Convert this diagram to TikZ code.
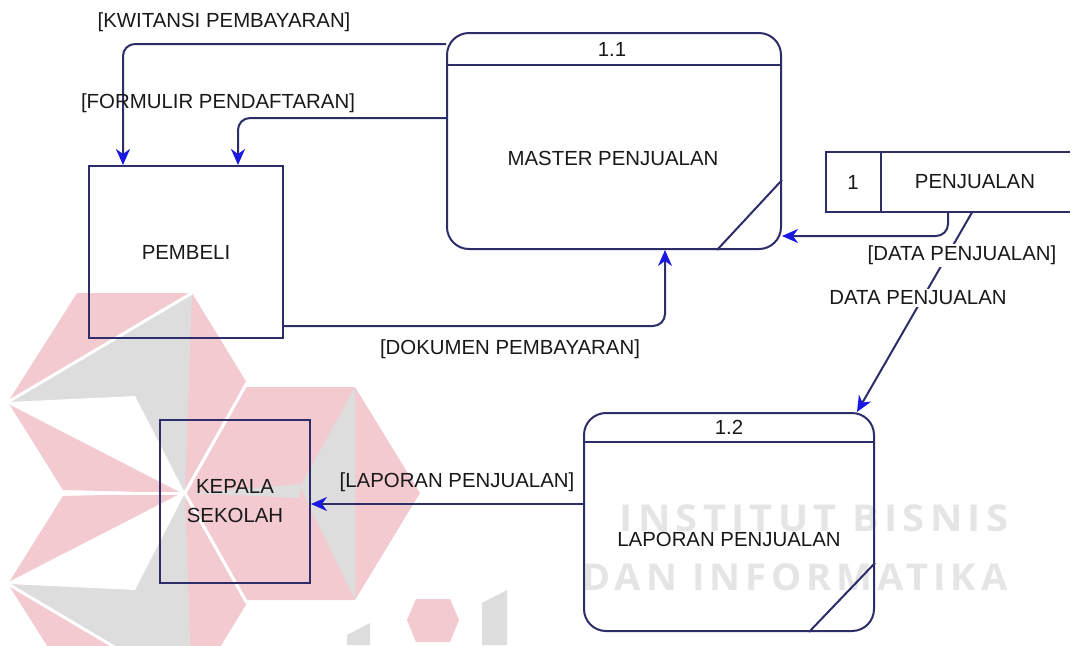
\documentclass[tikz,border=0pt]{standalone}
\usepackage{fontspec}
\setmainfont{Liberation Sans}
\newfontfamily\wmfont[LetterSpace=13]{Open Sans}
\usetikzlibrary{arrows.meta,calc}
\definecolor{ln}{RGB}{45,45,105}
\definecolor{tipc}{RGB}{25,25,225}
\definecolor{wpink}{RGB}{242,202,208}
\definecolor{wgray}{RGB}{221,221,221}
\definecolor{wtext}{RGB}{229,229,229}
\definecolor{txt}{RGB}{25,25,25}
\begin{document}
\begin{tikzpicture}[x=0.5pt,y=-0.5pt,
  lbl/.style={font=\fontsize{10.2}{14.5}\selectfont, text=txt, inner sep=1pt},
  wmtxt/.style={text=wtext, font=\wmfont\bfseries\fontsize{18.5}{20}\selectfont, inner sep=0pt},
  wline/.style={white, line width=1.5pt},
  entity/.style={draw=ln, line width=1pt, inner sep=0pt, text=txt, font=\fontsize{10.2}{14.5}\selectfont},
  proc/.style={draw=ln, line width=1pt, rounded corners=11pt, inner sep=0pt},
  edge/.style={draw=ln, line width=1pt},
  flow/.style={draw=ln, line width=1pt, rounded corners=6pt, -{Stealth[length=8pt,width=7pt,inset=2.5pt,color=tipc]}},
]
\useasboundingbox (0,0) rectangle (1078,645);
\clip (0,0) rectangle (1078,645);
\fill[white] (0,0) rectangle (1078,645);
% ---------- watermark ----------
% upper hexagon
\fill[wpink] (77,293) -- (192,293) -- (247,383) -- (185,493) -- (63,490) -- (8,402) -- cycle;
\fill[wgray] (192,293) -- (8,402) -- (135,396) -- (185,493) -- cycle;
\fill[white] (8,402) -- (135,396) -- (185,493) -- cycle;
\draw[wline] (192,293) -- (8,402) -- (185,493) -- (247,383);
% lower hexagon
\fill[wpink] (77,693) -- (192,693) -- (247,603) -- (185,493) -- (63,496) -- (8,584) -- cycle;
\fill[wgray] (192,693) -- (8,584) -- (135,590) -- (185,493) -- cycle;
\fill[white] (8,584) -- (135,590) -- (185,493) -- cycle;
\draw[wline] (192,693) -- (8,584) -- (185,493) -- (247,603);
\draw[wline] (63,493) -- (185,493);
% right hexagon
\fill[wpink] (245,387) -- (355,387) -- (420,493) -- (355,600) -- (245,600) -- (185,493) -- cycle;
\fill[wgray] (355,387) -- (300,487) -- (355,600) -- cycle;
\fill[wgray] (188,493) -- (300,484) -- (300,498) -- cycle;
\draw[wline] (185,493) -- (247,383);
\draw[wline] (185,493) -- (247,603);
% small shapes at the bottom
\fill[wpink] (416,599) -- (450,599) -- (459,620) -- (450,642) -- (416,642) -- (407,620) -- cycle;
\fill[wgray] (482,603) -- (507,590) -- (507,645) -- (482,645) -- cycle;
\fill[wgray] (347,635) -- (370,623) -- (370,645) -- (347,645) -- cycle;
\node[wmtxt] (wm1) at (814,518) {\scalebox{1.08}[1]{INSTITUT BISNIS}};
\node[wmtxt] (wm2) at (795,577) {\scalebox{1.03}[1]{DAN INFORMATIKA}};
% ---------- diagram ----------
\node[entity, minimum width=97pt, minimum height=86pt] (pembeli) at (186,252) {PEMBELI};
\node[entity, minimum width=75pt, minimum height=81.5pt, align=center] (kepala) at (235,501.5) {KEPALA\\SEKOLAH};
% process 1.1
\node[proc, minimum width=167pt, minimum height=108pt] (master) at (614,141) {};
\draw[edge] (master.north west) ++(0,33) -- ++(334,0);
\draw[edge] (master.south east) ++(-65,0) -- ++(65,-70);
\node[lbl] (masterid) at ($(master.north)+(-2,17)$) {1.1};
\node[lbl] (mastername) at ($(master.center)+(-1,17)$) {MASTER PENJUALAN};
% process 1.2
\node[proc, minimum width=145pt, minimum height=109pt] (laporan) at (729,522) {};
\draw[edge] (laporan.north west) ++(0,30) -- ++(290,0);
\draw[edge] (laporan.south east) ++(-66,0) -- ++(66,-69);
\node[lbl] (laporanid) at ($(laporan.north)+(0,15)$) {1.2};
\node[lbl] (laporanname) at ($(laporan.center)+(0,17)$) {LAPORAN PENJUALAN};
% data store
\node[minimum width=122pt, minimum height=30pt, inner sep=0pt] (store) at (948,182) {};
\draw[edge] (store.north east) -- (store.north west) -- (store.south west) -- (store.south east);
\draw[edge] (store.north west) ++(55,0) -- ++(0,60);
\node[lbl] (storeid) at (853,182) {1};
\node[lbl] (storename) at (975,182) {PENJUALAN};
% flows
\coordinate (kw) at (123,44);
\draw[flow] (master.west |- kw) -| (pembeli.north -| kw);
\coordinate (fm) at (238,118);
\draw[flow] (master.west |- fm) -| (pembeli.north -| fm);
\coordinate (dk) at (665,326);
\draw[flow] (pembeli.east |- dk) -| (master.south -| dk);
\coordinate (ds) at (948,236);
\draw[flow] (store.south -| ds) |- (master.east |- ds);
\coordinate (da) at (972,0);
\coordinate (db) at (857,0);
\draw[flow] (store.south -| da) -- (laporan.north -| db);
\coordinate (lp) at (0,504);
\draw[flow] (laporan.west |- lp) -- (kepala.east |- lp);
% flow labels
\node[lbl] (l1) at (224,22) {[KWITANSI PEMBAYARAN]};
\node[lbl] (l2) at (218,103) {[FORMULIR PENDAFTARAN]};
\node[lbl] (l3) at (510,349) {[DOKUMEN PEMBAYARAN]};
\node[lbl, fill=white] (l4) at (962,255) {[DATA PENJUALAN]};
\node[lbl, fill=white] (l5) at (918,298) {DATA PENJUALAN};
\node[lbl] (l6) at (457,482) {[LAPORAN PENJUALAN]};
\end{tikzpicture}
\end{document}
